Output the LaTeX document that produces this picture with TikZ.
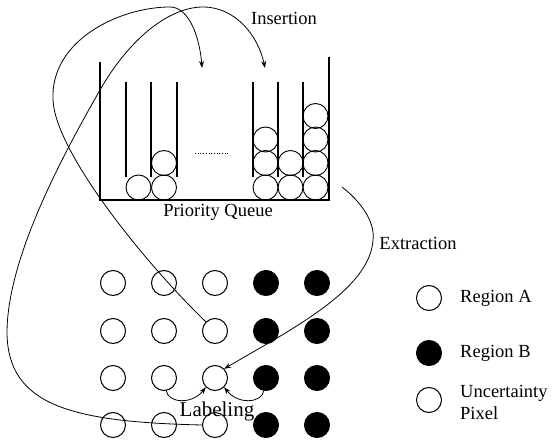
\documentclass[tikz,border=0pt]{standalone}
\usepackage{fontspec}
\setmainfont{Liberation Serif}
\usetikzlibrary{arrows.meta}
\begin{document}
\begin{tikzpicture}[x=1pt,y=-1pt,
  wall/.style={line width=1.6pt},
  inwall/.style={line width=1.3pt},
  qball/.style={circle,draw,minimum size=25pt,inner sep=0pt,line width=0.9pt},
  pix/.style={circle,draw,minimum size=25pt,inner sep=0pt,line width=1pt},
  pixB/.style={pix,fill=black},
  link/.style={line width=0.8pt},
  arr/.style={link,-{Stealth[length=7pt,width=5pt]}},
  lbl/.style={font=\fontsize{18.5}{22}\selectfont,inner sep=0pt}]
\useasboundingbox (0,0) rectangle (557,441);
% queue box
\draw[wall] (100,62) -- (100,200) -- (329,200) -- (329,57);
\foreach \x in {126,151,177,253,278,303}
  \draw[inwall] (\x,82) -- (\x,177);
% queue balls
\node[qball] (q1) at (138.5,187.5) {};
\node[qball] (q2) at (164,187.5) {};
\node[qball] (q3) at (164,163) {};
\node[qball] (q4) at (265.5,187.5) {};
\node[qball] (q5) at (290.5,187.5) {};
\node[qball] (q6) at (315.5,187.5) {};
\node[qball] (q7) at (265.5,163) {};
\node[qball] (q8) at (290.5,163) {};
\node[qball] (q9) at (315.5,163) {};
\node[qball] (q10) at (265.5,139.5) {};
\node[qball] (q11) at (315.5,139.5) {};
\node[qball] (q12) at (315.5,116) {};
\draw[dotted,line width=0.7pt] (195,153) -- (230,153);
% grid
\foreach \r/\y in {1/283,2/331,3/378,4/425}{
  \foreach \c/\x in {1/113,2/164,3/215}
    \node[pix] (g\r\c) at (\x,\y) {};
  \foreach \c/\x in {4/266,5/317}
    \node[pixB] (g\r\c) at (\x,\y) {};
}
% legend
\node[pix] (la) at (429,298) {};
\node[pixB] (lb) at (429,353) {};
\node[pix] (lu) at (429,400) {};
\node[lbl,anchor=west] (ta) at (460,298) {Region A};
\node[lbl,anchor=west] (tb) at (460,353) {Region B};
\node[lbl,anchor=west,align=left] (tu) at (460,402) {Uncertainty\\Pixel};
% labels
\node[lbl] (ins) at (284,18) {Insertion};
\node[lbl] (pq) at (218,212) {Priority Queue};
\node[lbl] (ext) at (418,243) {Extraction};
\node[lbl,font=\fontsize{21}{24}\selectfont] (lab) at (217,411) {Labeling};
% insertion targets
\coordinate (t1) at (202,68);
\coordinate (t2) at (265,68);
\coordinate (qout) at (342,187);
% curve B: from g23 to first insertion point
\draw[arr] (g23.135) .. controls (140,258) and (55,150) .. (53,100)
  .. controls (50,40) and (120,7) .. (170,7)
  .. controls (190,7) and (200,40) .. (t1);
% curve A: from g43 to second insertion point
\draw[arr] (g43.west) .. controls (70,422) and (8,405) .. (7,333)
  .. controls (7,260) and (60,160) .. (100,90)
  .. controls (130,37.5) and (170,7) .. (203,7)
  .. controls (235,7) and (258,35) .. (t2);
% extraction
\draw[arr] (qout) .. controls (365,205) and (375,225) .. (373,240)
  .. controls (370,290) and (290,330) .. (g33.45);
% labeling arrows
\draw[arr] (g32.-80) .. controls (168,403) and (192,405) .. (g33.-135);
\draw[arr] (g34.-100) .. controls (262,403) and (238,405) .. (g33.-45);
\end{tikzpicture}
\end{document}
